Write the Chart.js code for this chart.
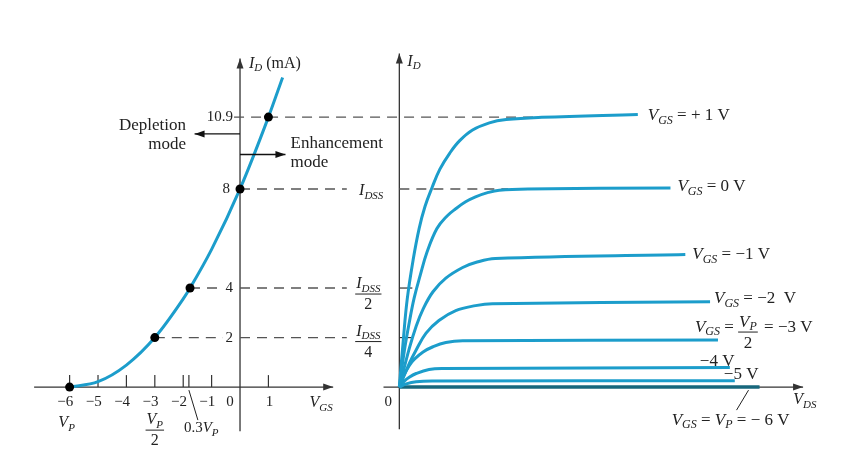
<!DOCTYPE html>
<html lang="en">
<head>
<meta charset="UTF-8">
<title>JFET transfer and drain characteristics</title>
<script src="https://cdn.jsdelivr.net/npm/chart.js"></script>
<style>
  html, body { margin: 0; padding: 0; background: #fff; }
  #wrap { position: relative; width: 862px; height: 475px; }
</style>
</head>
<body>
<div id="wrap"><canvas id="chart" width="862" height="475"></canvas></div>
<script>
// transfer characteristic: VGS (V) against ID (mA)
const vgsCurve = [-6, -5, -4, -3, -2, -1.76, -1, 0, 1, 1.5];
const idCurve  = [0, 0.22, 0.89, 2, 3.56, 4, 5.56, 8, 10.9, 12.5];
// the marked points on it
const vgsMarks = [-6, -3, -1.76, 0, 1];
const idMarks  = [0, 2, 4, 8, 10.9];
// tick labels
const vgsTicks = [-6, -5, -4, -3, -2, -1, 0, 1];
const vgsTickLabels = ['−6', '−5', '−4', '−3', '−2', '−1', '0', '1'];
const idTicks = [10.9, 8, 4, 2];
const idTickLabels = ['10.9', '8', '4', '2'];

// drain characteristics: VDS (no unit on the figure) against ID (mA)
const vdsP1 = [0, 0.2, 0.4, 0.7, 1.0, 1.3, 1.65, 2.05, 2.55, 3.05, 3.7, 4.55, 5.4, 7.2, 12.05];
const idP1  = [0, 1.9, 3.56, 5.15, 6.4, 7.3, 8.05, 8.8, 9.45, 9.95, 10.38, 10.67, 10.8, 10.89, 11.01];
const vds0  = [0, 0.25, 0.5, 0.75, 1.05, 1.4, 1.9, 2.4, 2.85, 3.35, 3.85, 4.5, 5.05, 6.5, 13.7];
const id0   = [0, 1.45, 2.6, 3.6, 4.5, 5.45, 6.4, 6.9, 7.2, 7.48, 7.68, 7.86, 7.95, 8.0, 8.04];
const vdsM1 = [0, 0.5, 0.85, 1.2, 1.7, 2.35, 3.2, 3.85, 4.85, 14.45];
const idM1  = [0, 1.55, 2.46, 3.15, 3.85, 4.4, 4.83, 5.03, 5.19, 5.35];
const vdsM2 = [0, 0.5, 0.85, 1.35, 2.0, 2.85, 3.85, 4.7, 15.7];
const idM2  = [0, 0.95, 1.5, 2.18, 2.69, 3.09, 3.29, 3.37, 3.45];
const vdsM3 = [0, 0.25, 0.5, 0.75, 1.2, 1.7, 2.35, 3.2, 16.1];
const idM3  = [0, 0.5, 0.87, 1.12, 1.42, 1.63, 1.8, 1.87, 1.9];
const vdsM4 = [0, 0.25, 0.5, 0.85, 1.5, 2.2, 16.7];
const idM4  = [0, 0.24, 0.4, 0.55, 0.71, 0.75, 0.79];
const vdsM5 = [0, 0.35, 0.85, 1.7, 16.95];
const idM5  = [0, 0.13, 0.22, 0.25, 0.26];
const vdsM6 = [0, 18.2];
const idM6  = [0, 0];

const BLUE = '#1c9dcb';
const DARK = '#333';
const DASH = '#555';
const FONT = '"Liberation Serif", "DejaVu Serif", serif';

const pts = (xs, ys) => xs.map((x, k) => ({ x: x, y: ys[k] }));

function curve(xs, ys, color, width) {
  return {
    xAxisID: 'xR', data: pts(xs, ys), showLine: true, borderColor: color || BLUE,
    borderWidth: width || 3, pointRadius: 0, tension: 0.4, order: 2
  };
}
function dashed(axis, x1, x2, level) {
  return {
    xAxisID: axis, data: [{ x: x1, y: level }, { x: x2, y: level }], showLine: true,
    borderColor: DASH, borderWidth: 1.4, borderDash: [10, 7], pointRadius: 0, order: 3
  };
}

// text helpers: parts are [text, kind], kind r = roman, i = italic, s = italic subscript
function setFont(ctx, kind, size) {
  if (kind === 'r') ctx.font = size + 'px ' + FONT;
  else if (kind === 'i') ctx.font = 'italic ' + size + 'px ' + FONT;
  else ctx.font = 'italic ' + Math.round(size * 0.7) + 'px ' + FONT;
}
function textWidth(ctx, parts, size) {
  let w = 0;
  for (const [t, k] of parts) { setFont(ctx, k, size); w += ctx.measureText(t).width; }
  return w;
}
function rich(ctx, x, y, parts, size, align) {
  const w = textWidth(ctx, parts, size);
  let cx = align === 'right' ? x - w : align === 'center' ? x - w / 2 : x;
  ctx.textAlign = 'left';
  ctx.textBaseline = 'middle';
  for (const [t, k] of parts) {
    setFont(ctx, k, size);
    ctx.fillText(t, cx, k === 's' ? y + size * 0.3 : y);
    cx += ctx.measureText(t).width;
  }
  return w;
}
function frac(ctx, cx, barY, num, den, size) {
  const w = textWidth(ctx, num, size) + 2;
  rich(ctx, cx, barY - 10, num, size, 'center');
  rich(ctx, cx, barY + 11, [[den, 'r']], size, 'center');
  ctx.lineWidth = 1;
  ctx.beginPath(); ctx.moveTo(cx - w / 2, barY); ctx.lineTo(cx + w / 2, barY); ctx.stroke();
  return w;
}
function line(ctx, x1, y1, x2, y2, w) {
  ctx.lineWidth = w || 1.2;
  ctx.beginPath(); ctx.moveTo(x1, y1); ctx.lineTo(x2, y2); ctx.stroke();
}
function arrow(ctx, x1, y1, x2, y2) {
  line(ctx, x1, y1, x2, y2, 1.3);
  const a = Math.atan2(y2 - y1, x2 - x1), L = 10, H = 3.5;
  ctx.beginPath();
  ctx.moveTo(x2, y2);
  ctx.lineTo(x2 - L * Math.cos(a) + H * Math.sin(a), y2 - L * Math.sin(a) - H * Math.cos(a));
  ctx.lineTo(x2 - L * Math.cos(a) - H * Math.sin(a), y2 - L * Math.sin(a) + H * Math.cos(a));
  ctx.closePath(); ctx.fill();
}

const axesPlugin = {
  id: 'axesPlugin',
  beforeDatasetsDraw(chart) {
    const ctx = chart.ctx, s = chart.scales;
    const X = v => s.xL.getPixelForValue(v), R = u => s.xR.getPixelForValue(u), Y = i => s.y.getPixelForValue(i);
    ctx.save();
    ctx.strokeStyle = DARK; ctx.fillStyle = DARK;
    // left axes
    arrow(ctx, X(0), Y(-1.78), X(0), Y(13.27));
    arrow(ctx, X(-7.25), Y(0), X(3.28), Y(0));
    // right axes
    arrow(ctx, R(0), Y(-1.7), R(0), Y(13.47));
    arrow(ctx, R(-0.8), Y(0), R(20.4), Y(0));
    // VGS ticks, plus the 0.3 VP mark
    vgsTicks.concat([-1.8]).forEach(v => { if (v !== 0) line(ctx, X(v), Y(0), X(v), Y(0) - 12, 1.2); });
    // short ticks on the drain axis at IDSS/2 and IDSS/4
    [4, 2].forEach(i => line(ctx, R(0), Y(i), R(0) + 13, Y(i), 1.2));
    ctx.restore();
  },
  afterDatasetsDraw(chart) {
    const ctx = chart.ctx, s = chart.scales;
    const X = v => s.xL.getPixelForValue(v), R = u => s.xR.getPixelForValue(u), Y = i => s.y.getPixelForValue(i);
    ctx.save();
    ctx.fillStyle = '#222'; ctx.strokeStyle = '#222';
    const T = 15, L = 17;

    // left chart
    rich(ctx, X(0) + 9, Y(13.27) + 5, [['I', 'i'], ['D', 's'], [' (mA)', 'r']], 16, 'left');
    idTicks.forEach((v, k) => rich(ctx, X(0) - (v === 8 ? 10 : 7), Y(v), [[idTickLabels[k], 'r']], T, 'right'));
    vgsTicks.forEach((v, k) => {
      if (v < 0) rich(ctx, X(v) + 3.7, Y(0) + 15, [[vgsTickLabels[k], 'r']], T, 'right');
      else rich(ctx, v === 0 ? X(0) - 10 : X(v) + 1, Y(0) + 15, [[vgsTickLabels[k], 'r']], T, 'center');
    });
    rich(ctx, X(-6) - 3, Y(0) + 36, [['V', 'i'], ['P', 's']], 16, 'center');
    frac(ctx, X(-3), Y(0) + 43, [['V', 'i'], ['P', 's']], '2', 16);
    line(ctx, X(-1.8), Y(0) + 3, X(-1.8) + 9, Y(0) + 33, 1);
    rich(ctx, X(-1.8) - 5, Y(0) + 41, [['0.3', 'r'], ['V', 'i'], ['P', 's']], T, 'left');
    rich(ctx, X(2.45), Y(0) + 16, [['V', 'i'], ['GS', 's']], 16, 'left');

    // depletion / enhancement arrows
    ctx.fillStyle = '#111'; ctx.strokeStyle = '#111';
    const yDep = Y(10.22), yEnh = Y(9.39);
    arrow(ctx, X(0), yDep, X(-1.6), yDep);
    arrow(ctx, X(0), yEnh, X(1.6), yEnh);
    ctx.fillStyle = '#222'; ctx.strokeStyle = '#222';
    rich(ctx, X(-1.9), yDep - 8, [['Depletion', 'r']], L, 'right');
    rich(ctx, X(-1.9), yDep + 11, [['mode', 'r']], L, 'right');
    rich(ctx, X(1.78), yEnh - 11, [['Enhancement', 'r']], L, 'left');
    rich(ctx, X(1.78), yEnh + 8, [['mode', 'r']], L, 'left');

    // drain axis labels
    rich(ctx, R(0) + 8, Y(13.47) + 8, [['I', 'i'], ['D', 's']], 16, 'left');
    rich(ctx, R(0) - 11, Y(0) + 15, [['0', 'r']], T, 'center');
    rich(ctx, R(19.9), Y(0) + 13, [['V', 'i'], ['DS', 's']], 16, 'left');
    rich(ctx, R(0) - 16, Y(8) + 2, [['I', 'i'], ['DSS', 's']], 16, 'right');
    frac(ctx, R(0) - 31, Y(4) + 6, [['I', 'i'], ['DSS', 's']], '2', 16);
    frac(ctx, R(0) - 31, Y(2) + 4, [['I', 'i'], ['DSS', 's']], '4', 16);

    // curve labels, placed from the end of each curve
    const end = (xs, ys) => [R(xs[xs.length - 1]), Y(ys[ys.length - 1])];
    const VGS = [['V', 'i'], ['GS', 's']];
    let e = end(vdsP1, idP1);
    rich(ctx, e[0] + 10, e[1] + 1, VGS.concat([[' = + 1 V', 'r']]), L, 'left');
    e = end(vds0, id0);
    rich(ctx, e[0] + 7, e[1] - 1, VGS.concat([[' = 0 V', 'r']]), L, 'left');
    e = end(vdsM1, idM1);
    rich(ctx, e[0] + 7, e[1], VGS.concat([[' = −1 V', 'r']]), L, 'left');
    e = end(vdsM2, idM2);
    rich(ctx, e[0] + 4, e[1] - 3, VGS.concat([[' = −2  V', 'r']]), L, 'left');
    e = end(vdsM3, idM3);
    let x0 = e[0] - 23, y0 = e[1] - 13;
    x0 += rich(ctx, x0, y0, VGS.concat([[' = ', 'r']]), L, 'left');
    const fw = textWidth(ctx, [['V', 'i'], ['P', 's']], L) + 2;
    frac(ctx, x0 + fw / 2, y0 + 5, [['V', 'i'], ['P', 's']], '2', L);
    rich(ctx, x0 + fw + 2, y0, [[' = −3 V', 'r']], L, 'left');
    e = end(vdsM4, idM4);
    rich(ctx, e[0] - 30, e[1] - 6, [['−4 V', 'r']], L, 'left');
    e = end(vdsM5, idM5);
    rich(ctx, e[0] - 11, e[1] - 6, [['−5 V', 'r']], L, 'left');
    e = end(vdsM6, idM6);
    line(ctx, e[0] - 11, e[1] + 3, e[0] - 23, e[1] + 23, 1);
    rich(ctx, e[0] + 30, e[1] + 33, VGS.concat([[' = ', 'r'], ['V', 'i'], ['P', 's'], [' = − 6 V', 'r']]), L, 'right');
    ctx.restore();
  }
};

const datasets = [
  // transfer curve and its marked points
  { xAxisID: 'xL', data: pts(vgsCurve, idCurve), showLine: true, borderColor: BLUE, borderWidth: 3,
    pointRadius: 0, cubicInterpolationMode: 'monotone', order: 2 },
  { xAxisID: 'xL', data: pts(vgsMarks, idMarks), showLine: false, pointRadius: 4.5,
    pointBackgroundColor: '#000', pointBorderWidth: 0, order: 0 },
  // drain curves
  curve(vdsP1, idP1), curve(vds0, id0), curve(vdsM1, idM1), curve(vdsM2, idM2),
  curve(vdsM3, idM3), curve(vdsM4, idM4), curve(vdsM5, idM5), curve(vdsM6, idM6, '#17677c', 3.5),
  // dashed guide lines
  dashed('xL', -0.21, 10.63, 10.9),
  dashed('xL', 0, 3.76, 8), dashed('xR', 0, 5.5, 8),
  dashed('xL', -1.76, -0.6, 4), dashed('xL', 0, 3.76, 4),
  dashed('xL', -3, -0.6, 2), dashed('xL', 0, 3.76, 2)
];

new Chart(document.getElementById('chart'), {
  type: 'scatter',
  data: { datasets: datasets },
  options: {
    responsive: false,
    animation: false,
    layout: { padding: 0 },
    plugins: { legend: { display: false }, tooltip: { enabled: false } },
    scales: {
      xL: { type: 'linear', axis: 'x', min: -8.2927, max: 21.742, display: false },
      xR: { type: 'linear', axis: 'x', min: -19.95, max: 23.15, display: false },
      y:  { type: 'linear', min: -3.366, max: 15.446, display: false }
    }
  },
  plugins: [axesPlugin]
});
</script>
</body>
</html>
